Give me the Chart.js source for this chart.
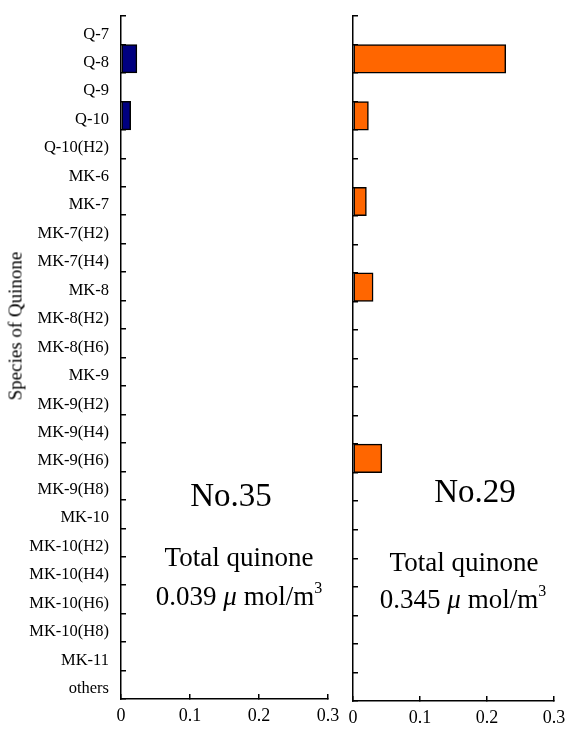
<!DOCTYPE html>
<html>
<head>
<meta charset="utf-8">
<script src="https://cdn.jsdelivr.net/npm/chart.js@4/dist/chart.umd.min.js"></script>
<style>
  html, body { margin: 0; padding: 0; background: #fff; }
  body { width: 569px; height: 742px; position: relative; overflow: hidden; font-family: "Liberation Serif", "Times New Roman", serif; color: #000; }
  canvas { position: absolute; top: 0; }
  #cL { left: 0; }
  #cR { left: 343px; }
  .t { position: absolute; white-space: nowrap; line-height: 1; transform: translateX(-50%); }
  .big { font-size: 33px; }
  .mid { font-size: 27px; }
  .mu { font-style: italic; }
  .sup { font-size: 16px; position: relative; top: -12px; }
  #ytitle { position: absolute; left: 15px; top: 326px; font-size: 19px; font-weight: normal; color: #000; line-height: 1; white-space: nowrap; transform: translate(-50%, -50%) rotate(-90deg); }
</style>
</head>
<body>
<canvas id="cL" width="343" height="742"></canvas>
<canvas id="cR" width="226" height="742"></canvas>
<div id="ytitle">Species of Quinone</div>
<div class="t big" style="left:231px; top:479px;">No.35</div>
<div class="t mid" style="left:239px; top:544px;">Total quinone</div>
<div class="t mid" style="left:239px; top:583px;">0.039 <span class="mu">μ</span> mol/m<span class="sup">3</span></div>
<div class="t big" style="left:475px; top:475px;">No.29</div>
<div class="t mid" style="left:464px; top:549px;">Total quinone</div>
<div class="t mid" style="left:463px; top:586px;">0.345 <span class="mu">μ</span> mol/m<span class="sup">3</span></div>
<script>
const categories = ["Q-7","Q-8","Q-9","Q-10","Q-10(H2)","MK-6","MK-7","MK-7(H2)","MK-7(H4)","MK-8","MK-8(H2)","MK-8(H6)","MK-9","MK-9(H2)","MK-9(H4)","MK-9(H6)","MK-9(H8)","MK-10","MK-10(H2)","MK-10(H4)","MK-10(H6)","MK-10(H8)","MK-11","others"];
const valuesNo35 = [0,0.023,0,0.014,0,0,0,0,0,0,0,0,0,0,0,0,0,0,0,0,0,0,0,0];
const valuesNo29 = [0,0.228,0,0.023,0,0,0.020,0,0,0.030,0,0,0,0,0,0.043,0,0,0,0,0,0,0,0];
const xTickLabels = ["0","0.1","0.2","0.3"];

const FONT = "'Liberation Serif', 'Times New Roman', serif";

function zeroPad(s) { s.paddingTop = 0; s.paddingBottom = 0; s.paddingLeft = 0; s.paddingRight = 0; }

function makeChart(id, values, color, showLabels, yWidth, xHeight) {
  return new Chart(document.getElementById(id), {
    type: 'bar',
    data: {
      labels: categories,
      datasets: [{
        data: values,
        backgroundColor: color,
        borderColor: '#000',
        borderWidth: 1.5,
        borderSkipped: false,
        categoryPercentage: 1.0,
        barPercentage: 1.0
      }]
    },
    options: {
      indexAxis: 'y',
      responsive: false,
      animation: false,
      devicePixelRatio: 1,
      layout: { padding: { top: 16, right: 15, left: 0, bottom: 0 } },
      plugins: { legend: { display: false }, tooltip: { enabled: false } },
      scales: {
        y: {
          afterFit: s => { s.width = yWidth; zeroPad(s); },
          grid: { display: true, offset: true, drawOnChartArea: false, drawTicks: true, tickLength: -5, color: '#000', lineWidth: 1.5 },
          border: { display: true, color: '#000', width: 1.5 },
          ticks: { display: showLabels, autoSkip: false, padding: 17, labelOffset: 4, color: '#000', font: { family: FONT, size: 16.5 } }
        },
        x: {
          min: 0, max: 0.3,
          afterFit: s => { s.height = xHeight; zeroPad(s); },
          grid: { display: true, drawOnChartArea: false, drawTicks: true, tickLength: -5, color: '#000', lineWidth: 1.5 },
          border: { display: true, color: '#000', width: 1.5 },
          ticks: { stepSize: 0.1, padding: 11, color: '#000', font: { family: FONT, size: 18 }, maxRotation: 0,
                   callback: (v, i) => xTickLabels[i] }
        }
      }
    }
  });
}

makeChart('cL', valuesNo35, '#000080', true, 121, 43);
makeChart('cR', valuesNo29, '#FF6600', false, 10, 41);
</script>
</body>
</html>
